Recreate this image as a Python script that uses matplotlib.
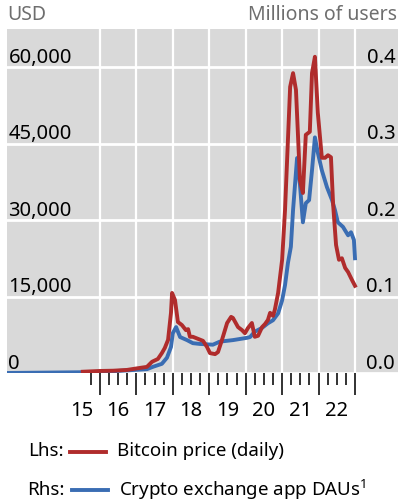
import matplotlib
matplotlib.use("Agg")
import matplotlib.pyplot as plt
import matplotlib.transforms as mtransforms
from matplotlib.lines import Line2D

plt.rcParams['font.family'] = ['Noto Sans', 'DejaVu Sans']
plt.rcParams['mathtext.fontset'] = 'custom'
plt.rcParams['mathtext.rm'] = 'Noto Sans'

# Bitcoin price (USD, lhs)
btc_t = [2015.53, 2016.0, 2016.36, 2016.74, 2017.10, 2017.29, 2017.43, 2017.59,
         2017.70, 2017.78, 2017.87, 2017.95, 2017.98, 2018.06, 2018.14, 2018.25,
         2018.36, 2018.42, 2018.47, 2018.55, 2018.69, 2018.83, 2018.94, 2019.02,
         2019.16, 2019.24, 2019.35, 2019.49, 2019.60, 2019.65, 2019.79, 2019.90,
         2019.98, 2020.06, 2020.17, 2020.25, 2020.34, 2020.45, 2020.53, 2020.61,
         2020.67, 2020.75, 2020.80, 2020.89, 2021.0, 2021.08, 2021.22, 2021.30,
         2021.38, 2021.49, 2021.57, 2021.65, 2021.76, 2021.82, 2021.90, 2021.98,
         2022.09, 2022.18, 2022.26, 2022.34, 2022.40, 2022.48, 2022.56, 2022.64,
         2022.73, 2022.81, 2022.92, 2023.0]
btc_usd = [250, 400, 450, 600, 1000, 1200, 2200, 2750,
           3900, 4900, 6500, 11800, 15700, 14300, 10000, 9400,
           8400, 8600, 7100, 7100, 6700, 6300, 5100, 3900,
           3700, 4100, 6500, 9800, 11000, 10800, 9000, 8400,
           7800, 8800, 9800, 7100, 7300, 9000, 9600, 10400,
           11800, 11200, 12400, 15700, 22200, 32000, 56100, 58800,
           55500, 37800, 35300, 46700, 47300, 58800, 62000, 51000,
           42200, 42200, 42700, 42300, 33000, 25100, 22200, 22500,
           20600, 19800, 18200, 17100]

# Crypto exchange app daily active users (millions, rhs)
dau_t = [2013.40, 2015.53, 2016.0, 2017.29, 2017.45, 2017.70, 2017.84, 2017.95,
         2018.0, 2018.09, 2018.20, 2018.39, 2018.55, 2018.74, 2019.10, 2019.29,
         2019.65, 2020.04, 2020.12, 2020.25, 2020.45, 2020.61, 2020.75, 2020.89,
         2021.0, 2021.08, 2021.16, 2021.24, 2021.30, 2021.41, 2021.49, 2021.57,
         2021.65, 2021.74, 2021.82, 2021.90, 2021.98, 2022.09, 2022.23, 2022.37,
         2022.45, 2022.53, 2022.67, 2022.81, 2022.89, 2022.97, 2023.0]
dau_m = [0.0, 0.001, 0.0013, 0.005, 0.008, 0.012, 0.020, 0.034,
         0.052, 0.060, 0.047, 0.043, 0.039, 0.038, 0.037, 0.041,
         0.043, 0.046, 0.047, 0.054, 0.059, 0.065, 0.069, 0.078,
         0.095, 0.115, 0.144, 0.165, 0.213, 0.281, 0.246, 0.197,
         0.222, 0.226, 0.265, 0.308, 0.288, 0.265, 0.243, 0.226,
         0.213, 0.197, 0.191, 0.180, 0.184, 0.174, 0.150]

left_ticks = [0, 15000, 30000, 45000, 60000]
left_labels = ['0', '15,000', '30,000', '45,000', '60,000']
right_ticks = [0.0, 0.1, 0.2, 0.3, 0.4]
right_labels = ['0.0', '0.1', '0.2', '0.3', '0.4']
year_labels = ['15', '16', '17', '18', '19', '20', '21', '22']
year_starts = list(range(2016, 2024))

red = '#b02c2c'
blue = '#3a6db3'
grey_txt = '#6e6e6e'

fig = plt.figure(figsize=(4, 5.04), dpi=100)
ax = fig.add_axes([7 / 400, 1 - 373 / 504, 391 / 400, 344 / 504])
ax2 = ax.twinx()

# ax2 (rhs, blue) sits underneath and carries the grey panel + grid,
# ax (lhs, red) is on top with a transparent patch
ax.set_zorder(ax2.get_zorder() + 1)
ax.patch.set_visible(False)
ax2.patch.set_visible(True)
ax2.set_facecolor('#d9d9d9')

ax.set_xlim(2013.45, 2024.18)
ax.set_ylim(0, 67450)
ax2.set_ylim(0, 0.4497)

for s in list(ax.spines.values()) + list(ax2.spines.values()):
    s.set_visible(False)

for v in right_ticks:
    ax2.axhline(v, color='white', lw=2, zorder=1.5)
for yr in year_starts:
    ax2.axvline(yr, color='white', lw=1.6, zorder=1.5)

ax2.plot(dau_t, dau_m, color=blue, lw=2.8, zorder=3)
ax.plot(btc_t, btc_usd, color=red, lw=2.8, zorder=4)

# ticks: major at year starts, minor at quarters
ax.set_xticks(year_starts, labels=[''] * len(year_starts))
ax.set_xticks([y + q for y in range(2015, 2023) for q in (0.25, 0.5, 0.75)
               if y + q >= 2015.75], minor=True)
ax.tick_params(axis='x', which='major', length=16, width=1.3, color='#222222')
ax.tick_params(axis='x', which='minor', length=8.5, width=1.3, color='#222222')
ax.tick_params(axis='y', which='both', left=False, right=False,
               labelleft=False, labelright=False)
ax2.tick_params(axis='y', which='both', left=False, right=False,
                labelleft=False, labelright=False)

# y labels inside the panel
for v, ll, rv, rl in zip(left_ticks, left_labels, right_ticks, right_labels):
    ax.annotate(ll, xy=(0, v), xycoords=('axes fraction', 'data'), xytext=(1, 3),
                textcoords='offset points', ha='left', va='baseline', fontsize=14.5)
    ax2.annotate(rl, xy=(1, rv), xycoords=('axes fraction', 'data'), xytext=(-2, 3),
                 textcoords='offset points', ha='right', va='baseline', fontsize=14.5)

# year labels centred between ticks
trans = mtransforms.blended_transform_factory(ax.transData, fig.transFigure)
for i, lab in enumerate(year_labels):
    ax.text(2015.5 + i, 1 - 411 / 504, lab, transform=trans, ha='center', va='center',
            fontsize=14.5)

fig.text(7 / 400, 1 - 15 / 504, 'USD', ha='left', va='center', fontsize=14, color=grey_txt)
fig.text(397 / 400, 1 - 15 / 504, 'Millions of users', ha='right', va='center',
         fontsize=14, color=grey_txt)

# legend
fig.text(28 / 400, 1 - 451 / 504, 'Lhs:', ha='left', va='center', fontsize=13.5)
fig.add_artist(Line2D([70 / 400, 106 / 400], [1 - 452 / 504] * 2, color=red, lw=2.8,
                      transform=fig.transFigure))
fig.text(117 / 400, 1 - 451 / 504, 'Bitcoin price (daily)', ha='left', va='center',
         fontsize=13.5)
fig.text(27 / 400, 1 - 490 / 504, 'Rhs:', ha='left', va='center', fontsize=13.5)
fig.add_artist(Line2D([72 / 400, 108 / 400], [1 - 490 / 504] * 2, color=blue, lw=2.8,
                      transform=fig.transFigure))
fig.text(119 / 400, 1 - 490 / 504, 'Crypto exchange app DAUs$^{1}$', ha='left',
         va='center', fontsize=13.5)

fig.savefig('out.png', dpi=100)
